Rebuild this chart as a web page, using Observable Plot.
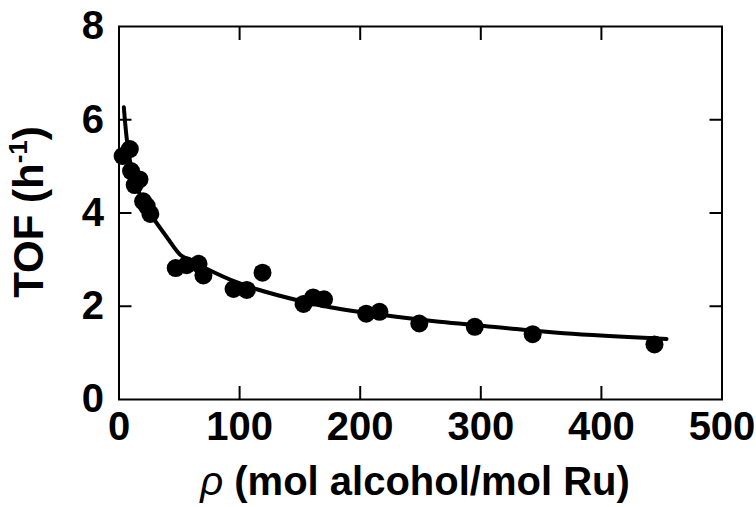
<!DOCTYPE html>
<html><head><meta charset="utf-8">
<script src="https://cdn.jsdelivr.net/npm/d3@7"></script>
<script src="https://cdn.jsdelivr.net/npm/@observablehq/plot@0.6"></script>
<style>body{margin:0;background:#fff} svg{display:block}</style>
</head><body><div id="chart"></div>
<script>
// measured points: rho (mol alcohol/mol Ru) vs TOF (h^-1)
const rho = [3, 9, 10, 13, 17, 20, 23, 26, 47, 56, 66, 70, 95, 106, 119, 153, 161, 170, 205, 216, 249, 295, 343, 444];
const tof = [5.22, 5.37, 4.9, 4.6, 4.72, 4.25, 4.15, 3.98, 2.82, 2.88, 2.91, 2.66, 2.37, 2.35, 2.72, 2.05, 2.19, 2.15, 1.84, 1.88, 1.63, 1.56, 1.40, 1.18];
// fitted curve
const fitRho = [4, 6.8, 10, 15, 20, 26, 40, 51, 60, 73, 98, 115, 148, 175, 222, 258, 314, 369, 454];
const fitTof = [6.27, 5.51, 5.0, 4.55, 4.25, 3.98, 3.47, 3.1, 2.98, 2.8, 2.51, 2.36, 2.13, 1.98, 1.8, 1.69, 1.55, 1.42, 1.30];
const xTicks = [0, 100, 200, 300, 400, 500];
const yTicks = [0, 2, 4, 6, 8];
const xInnerTicks = [100, 200, 300, 400];
const yInnerTicks = [2, 4, 6];

const points = rho.map((r, i) => ({rho: r, tof: tof[i]}));
const fit = fitRho.map((r, i) => ({rho: r, tof: fitTof[i]}));
const font = "'Liberation Sans', Arial, Helvetica, sans-serif";

const chart = Plot.plot({
  width: 756, height: 507,
  marginLeft: 118.5, marginRight: 34.5, marginTop: 26, marginBottom: 108,
  x: {domain: [0, 500]},
  y: {domain: [0, 8]},
  style: {fontFamily: font, background: "#fff", color: "#000", overflow: "visible"},
  marks: [
    Plot.axisX(xTicks, {anchor: "bottom", tickSize: 0, tickPadding: 12, fontSize: 40, fontWeight: "bold", label: null}),
    Plot.axisY(yTicks, {anchor: "left", tickSize: 0, tickPadding: 15, fontSize: 40, fontWeight: "bold", label: null}),
    Plot.axisX(xInnerTicks, {anchor: "bottom", tickSize: 13, dy: -13, text: null, label: null, strokeWidth: 2}),
    Plot.axisX(xInnerTicks, {anchor: "top", tickSize: 13, dy: 13, text: null, label: null, strokeWidth: 2}),
    Plot.axisY(yInnerTicks, {anchor: "left", tickSize: 13, dx: 13, text: null, label: null, strokeWidth: 2}),
    Plot.axisY(yInnerTicks, {anchor: "right", tickSize: 13, dx: -13, text: null, label: null, strokeWidth: 2}),
    Plot.frame({stroke: "#000", strokeWidth: 2}),
    Plot.line(fit, {x: "rho", y: "tof", stroke: "#000", strokeWidth: 4, curve: "catmull-rom"}),
    Plot.dot(points, {x: "rho", y: "tof", r: 9, fill: "#000", stroke: "none"})
  ]
});
document.getElementById("chart").appendChild(chart);

const svg = d3.select(chart);
// x-axis title
const xt = svg.append("text")
  .attr("x", 415).attr("y", 495)
  .attr("text-anchor", "middle")
  .attr("font-family", font).attr("font-size", 40).attr("font-weight", "bold")
  .attr("fill", "#000");
xt.append("tspan").attr("font-style", "italic").attr("font-weight", "normal").text("ρ");
xt.append("tspan").text(" (mol alcohol/mol Ru)");

// y-axis title
const yt = svg.append("text")
  .attr("transform", "translate(43,212) rotate(-90)")
  .attr("text-anchor", "middle")
  .attr("font-family", font).attr("font-size", 42).attr("font-weight", "bold")
  .attr("fill", "#000");
yt.append("tspan").text("TOF (h");
yt.append("tspan").attr("font-size", 26).attr("dy", -16).text("-1");
yt.append("tspan").attr("dy", 16).text(")");
</script>
</body></html>
